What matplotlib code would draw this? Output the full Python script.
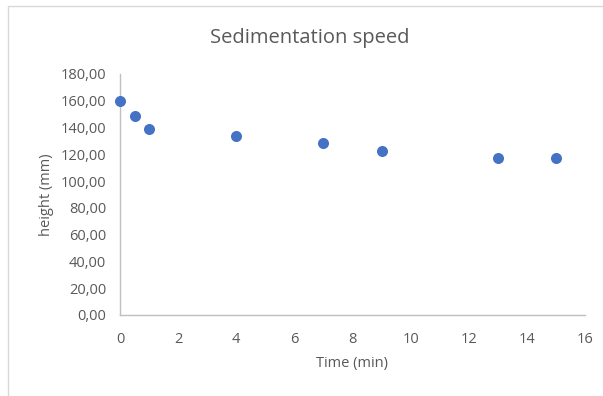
import matplotlib
matplotlib.use("Agg")
import matplotlib.pyplot as plt
from matplotlib.patches import Rectangle
from matplotlib.ticker import FuncFormatter, MultipleLocator

time_min = [0, 0.5, 1, 4, 7, 9, 13, 15]
height_mm = [160, 149, 139, 133.7, 128.3, 122.5, 117.3, 117.3]

plt.rcParams['font.family'] = ['Open Sans', 'DejaVu Sans']
gray = '#595959'

fig = plt.figure(figsize=(6.03, 3.96), dpi=100)
fig.patches.append(Rectangle((8/603, -0.1), 1.1, 1 - 6/396 + 0.1, transform=fig.transFigure,
                             fill=False, edgecolor='#d9d9d9', linewidth=1.0))
ax = fig.add_axes([120/603, 1 - 315/396, (585 - 120)/603, (315 - 74)/396])

ax.scatter(time_min, height_mm, s=48, color='#4472c4', zorder=3, clip_on=False)
ax.set_xlim(0, 16)
ax.set_ylim(0, 180)
ax.xaxis.set_major_locator(MultipleLocator(2))
ax.yaxis.set_major_locator(MultipleLocator(20))
ax.yaxis.set_major_formatter(FuncFormatter(lambda v, p: f"{v:.2f}".replace('.', ',')))

for s in ['top', 'right']:
    ax.spines[s].set_visible(False)
for s in ['left', 'bottom']:
    ax.spines[s].set_color('#bfbfbf')
    ax.spines[s].set_linewidth(1.0)
ax.tick_params(axis='x', length=0, labelsize=10.5, colors=gray, pad=12)
ax.tick_params(axis='y', length=0, labelsize=10.5, colors=gray, pad=10)

ax.set_xlabel('Time (min)', fontsize=10.5, color=gray, labelpad=7)
ax.set_ylabel('height (mm)', fontsize=10.5, color=gray, labelpad=5)
fig.text(310/603, 1 - 38/396, 'Sedimentation speed', ha='center', va='center', fontsize=14.5, color=gray)

fig.savefig('out.png', dpi=100)
